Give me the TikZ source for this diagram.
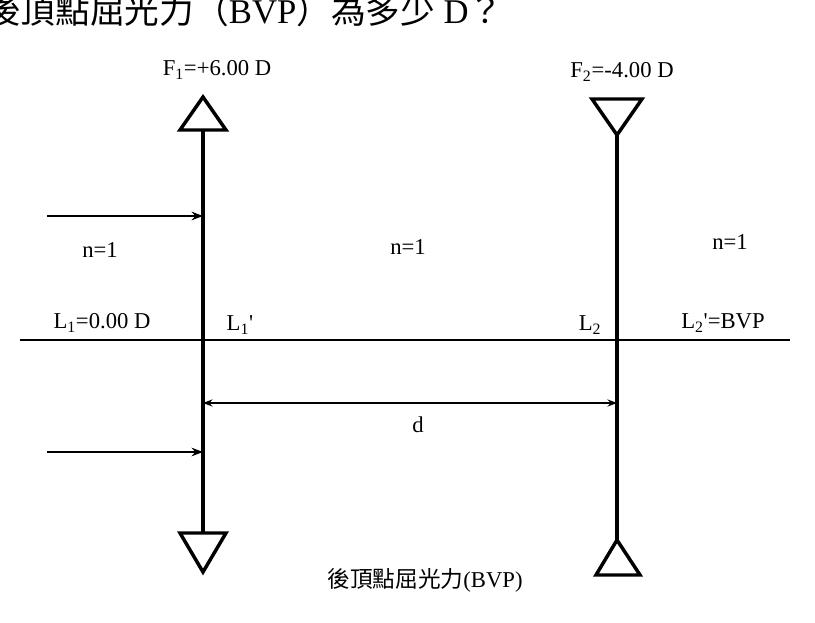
\documentclass[tikz,border=0pt]{standalone}
\usepackage{fontspec}
\setmainfont{Liberation Serif}
\newfontfamily\cjk{Noto Sans CJK TC}
\usetikzlibrary{arrows.meta}
\tikzset{>={Stealth[length=2.5mm]}}
\tikzset{
  lens/.style={line width=3pt},
  tri/.style={line width=2.6pt, line join=miter},
  lbl/.style={font=\fontsize{17}{20}\selectfont, inner sep=1pt}
}

\begin{document}
\begin{tikzpicture}[x=0.75pt,y=-0.75pt]
    \useasboundingbox (0,0) rectangle (815,623);
    \fill[white] (0,0) rectangle (815,623);
    \begin{scope}
    \clip (0,0) rectangle (815,623);
    \node[anchor=west, font=\fontsize{26}{30}\selectfont, inner sep=0pt] (title) at (-14,10)
        {{\cjk 後頂點屈光力（}BVP{\cjk ）為多少} D{\cjk ？}};
    \end{scope}

    % optical axis
    \coordinate (axL) at (20,340);
    \coordinate (axR) at (790,340);
    \draw[line width=1.5pt] (axL) -- (axR);

    % lens 1
    \coordinate (l1t) at (203,130);
    \coordinate (l1b) at (203,533);
    \draw[lens] (l1t) -- (l1b);
    \draw[tri] (180,130) -- (203,97) -- (226,130) -- cycle;
    \draw[tri] (180,533) -- (203,572) -- (226,533) -- cycle;

    % lens 2
    \coordinate (l2t) at (617,135);
    \coordinate (l2b) at (617,540);
    \draw[lens] (l2t) -- (l2b);
    \draw[tri] (592,99) -- (617,135) -- (642,99) -- cycle;
    \draw[tri] (596,575) -- (617,540) -- (640,575) -- cycle;

    % incoming rays
    \coordinate (r1) at (47,216);
    \coordinate (r2) at (47,452);
    \draw[-{Stealth[length=3mm]}, line width=2pt] (r1) -- (203,216);
    \draw[-{Stealth[length=3mm]}, line width=2pt] (r2) -- (203,452);

    % separation
    \coordinate (dL) at (203,403);
    \coordinate (dR) at (617,403);
    \draw[<->, line width=1.3pt] (dL) -- (dR);

    \node[lbl] (d) at (418,425) {d};
    \node[lbl] (f1) at (217,70) {F\textsubscript{1}=+6.00 D};
    \node[lbl] (f2) at (622,72) {F\textsubscript{2}=-4.00 D};
    \node[lbl] (n1) at (100,250) {n=1};
    \node[lbl] (n2) at (408,247) {n=1};
    \node[lbl] (n3) at (730,242) {n=1};
    \node[lbl] (L1) at (102,323) {L\textsubscript{1}=0.00 D};
    \node[lbl] (L1p) at (240,325) {L\textsubscript{1}\textquotesingle};
    \node[lbl] (L2) at (590,325) {L\textsubscript{2}};
    \node[lbl] (L2p) at (723,323) {L\textsubscript{2}\textquotesingle=BVP};
    \node[lbl] (bvp) at (425,580) {{\cjk 後頂點屈光力}(BVP)};
\end{tikzpicture}
\end{document}
